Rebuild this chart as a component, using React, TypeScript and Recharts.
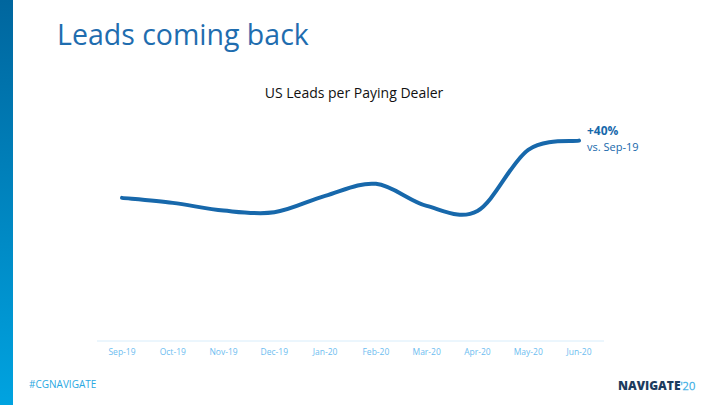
import { Line, LineChart, XAxis, YAxis } from 'recharts';

const months = ['Sep-19', 'Oct-19', 'Nov-19', 'Dec-19', 'Jan-20', 'Feb-20', 'Mar-20', 'Apr-20', 'May-20', 'Jun-20'];
const leads = [10.0, 9.65, 9.11, 8.99, 10.14, 10.98, 9.44, 9.09, 13.36, 14.0];

const BLUE = '#1768AB';
const TICK = '#6DBDF0';
const FONT = '"Open Sans", "Noto Sans", sans-serif';

const data = months.map((m, i) => ({ month: m, leads: leads[i] }));

// smoothed line like the office charts (catmull-rom style bezier)
function smoothCurve(context: any) {
  let pts: number[][] = [];
  return {
    areaStart() {},
    areaEnd() {},
    lineStart() {
      pts = [];
    },
    point(x: number, y: number) {
      pts.push([+x, +y]);
    },
    lineEnd() {
      if (!pts.length) return;
      context.moveTo(pts[0][0], pts[0][1]);
      for (let i = 0; i < pts.length - 1; i++) {
        const p0 = pts[Math.max(0, i - 1)];
        const p1 = pts[i];
        const p2 = pts[i + 1];
        const p3 = pts[Math.min(pts.length - 1, i + 2)];
        context.bezierCurveTo(
          p1[0] + (p2[0] - p0[0]) / 6,
          p1[1] + (p2[1] - p0[1]) / 6,
          p2[0] - (p3[0] - p1[0]) / 6,
          p2[1] - (p3[1] - p1[1]) / 6,
          p2[0],
          p2[1],
        );
      }
    },
  };
}

const EndLabel = (props: any) => {
  const { x, y, index } = props;
  if (index !== leads.length - 1) return null;
  return (
    <g fontFamily={FONT}>
      <text x={x + 8} y={y - 6} fill={BLUE} fontSize={12} fontWeight={700}>
        +40%
      </text>
      <text x={x + 8} y={y + 10} fill={BLUE} fontSize={11}>
        vs. Sep-19
      </text>
    </g>
  );
};

export default function App() {
  return (
    <div style={{ position: 'absolute', left: 0, top: 0, width: 720, height: 405, background: '#fff', overflow: 'hidden', fontFamily: FONT }}>
      <div style={{ position: 'absolute', left: 0, top: 0, width: 13, height: 405, background: 'linear-gradient(#00669E, #00A3E0)' }} />
      <div style={{ position: 'absolute', left: 57, top: 15, fontSize: 28.5, color: '#1F6DAF', whiteSpace: 'nowrap' }}>Leads coming back</div>
      <div style={{ position: 'absolute', left: 0, width: 708, top: 83, textAlign: 'center', fontSize: 14, color: '#111' }}>
        US Leads per Paying Dealer
      </div>
      <div style={{ position: 'absolute', left: 0, top: 0 }}>
        <LineChart width={720} height={405} data={data} margin={{ top: 112, right: 116, bottom: 34, left: 97 }}>
          <XAxis
            dataKey="month"
            height={30}
            padding={{ left: 25, right: 25 }}
            tick={{ fill: TICK, fontSize: 8.5, fontFamily: FONT }}
            axisLine={{ stroke: '#D8EDFB', strokeWidth: 1 }}
            tickLine={false}
            interval={0}
          />
          <YAxis hide domain={[0, 16]} />
          <Line
            dataKey="leads"
            type={smoothCurve as any}
            stroke={BLUE}
            strokeWidth={4}
            strokeLinecap="round"
            dot={false}
            label={<EndLabel />}
            isAnimationActive={false}
          />
        </LineChart>
      </div>
      <div style={{ position: 'absolute', left: 29, top: 377, fontSize: 10, color: '#2AA8E2' }}>#CGNAVIGATE</div>
      <div style={{ position: 'absolute', left: 618, top: 377, fontSize: 12, fontWeight: 800, color: '#1C3B5E', whiteSpace: 'nowrap' }}>
        NAVIGATE
        <span style={{ fontWeight: 300, color: '#fff', WebkitTextStroke: '0.6px #4AB3E6', fontSize: 11 }}>'20</span>
      </div>
    </div>
  );
}
